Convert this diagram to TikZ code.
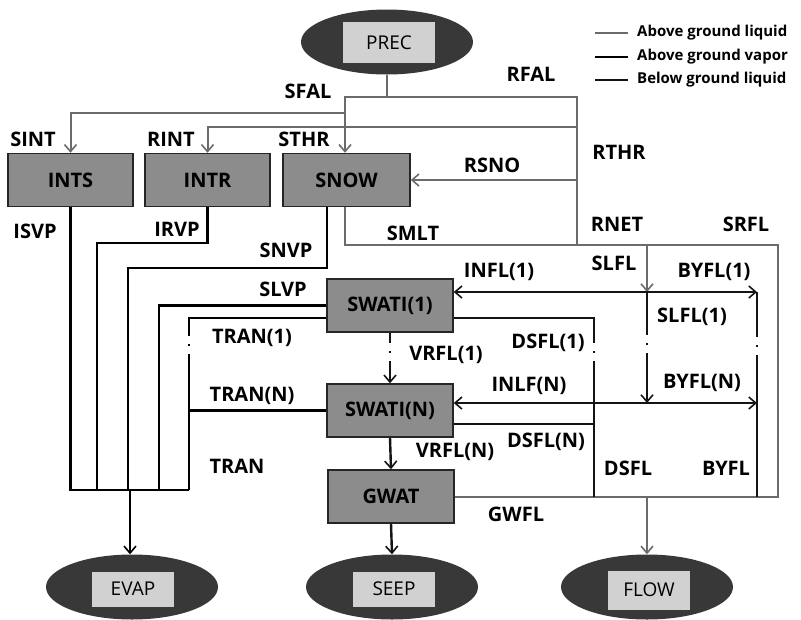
\documentclass[tikz,border=0pt]{standalone}
\usepackage{fontspec}
\setmainfont{Open Sans}
\usetikzlibrary{arrows.meta,shapes.geometric}

\tikzset{
  >={Straight Barb[length=7pt,width=12pt,line width=1.6pt]},
  box/.style={draw=black!85, line width=1.5pt, fill=black!45, minimum width=125pt, minimum height=53pt, inner sep=0pt, font=\fontsize{20}{24}\selectfont\bfseries},
  pool/.style={ellipse, fill=black!78, minimum width=172pt, minimum height=65pt, inner sep=0pt},
  tag/.style={fill=black!18, minimum width=82pt, minimum height=35pt, inner sep=0pt, font=\fontsize{19}{22}\selectfont},
  lbl/.style={inner sep=0pt, font=\fontsize{20}{24}\selectfont\bfseries},
  leg/.style={inner sep=0pt, font=\fontsize{15}{18}\selectfont\bfseries},
  liq/.style={draw=black!58, line width=2pt},
  vap/.style={draw=black, line width=2.6pt},
  bel/.style={draw=black!92, line width=2.4pt},
  brk/.style={dash pattern=on #1 off 8pt on 2pt off 8pt on 2000pt},
}

\begin{document}
\begin{tikzpicture}[x=1pt, y=-1pt]
  \useasboundingbox (0,0) rectangle (801,619);

  % pools
  \node[pool] (prec) at (387,42) {};
  \node[tag, minimum width=92pt, minimum height=41pt] (precb) at (389,42.5) {PREC};
  \node[pool] (evap) at (132,587) {};
  \node[tag] (evapb) at (133,589) {EVAP};
  \node[pool] (seep) at (392,587) {};
  \node[tag] (seepb) at (394,589) {SEEP};
  \node[pool] (flow) at (647,587) {};
  \node[tag, minimum height=39pt] (flowb) at (649,590) {FLOW};

  % stores
  \node[box] (ints) at (70.5,180) {INTS};
  \node[box] (intr) at (207.5,180) {INTR};
  \node[box, minimum width=127pt] (snow) at (346.5,180) {SNOW};
  \node[box, minimum width=126pt] (swa) at (390,305.5) {SWATI(1)};
  \node[box, minimum width=126pt] (swn) at (390,410.5) {SWATI(N)};
  \node[box, minimum width=126pt] (gwat) at (391,496.5) {GWAT};

  % junctions
  \coordinate (jn) at (387,97);
  \coordinate (js) at (345,113);
  \coordinate (jr) at (577,127);
  \coordinate (jo) at (577,180);
  \coordinate (rn) at (577,245);
  \coordinate (jl) at (647,245);
  \coordinate (sr) at (778,245);
  \coordinate (ji) at (647,292);
  \coordinate (b1) at (757,292);
  \coordinate (jf) at (647,497);
  \coordinate (vr) at (189,490);
  \coordinate (ve) at (130,490);

  % above ground liquid
  \draw[liq] (prec.south) -- (jn);
  \draw[liq, ->] (jn) -| ([xshift=-1.5pt]snow.north);
  \draw[liq, ->] (js) -| (ints.north);
  \draw[liq] (jn) -| (rn);
  \draw[liq, ->] (jr) -| (intr.north);
  \draw[liq, ->] (jo) -- (snow.east);
  \draw[liq] ([xshift=-1.5pt]snow.south) |- (sr) -- (sr |- jf) -- (gwat.east |- jf);
  \draw[liq, ->] (jl) -- (ji);
  \draw[liq, ->] (jf) -- (flow.north);

  % above ground vapor
  \draw[vap] (ints.south) |- (vr);
  \draw[vap] (intr.south) |- (97,243) -- (97,490);
  \draw[vap] ([xshift=-19.5pt]snow.south) |- (128,268) -- (128,490);
  \draw[vap] (swa.west) -| (159,490);
  \draw[vap, brk=155pt] ([yshift=-12.5pt]swa.west) -| (vr);
  \draw[vap] (swn.west) -- (189,410.5);
  \draw[vap, ->] (ve) -- (ve |- evap.north);

  % below ground liquid
  \draw[bel, <->] ([yshift=13.5pt]swa.east) -- (b1);
  \draw[bel, brk=45pt] (b1) -- (b1 |- jf);
  \draw[bel, ->, brk=43pt] (ji) -- (647,403);
  \draw[bel, <->] ([yshift=7.5pt]swn.east) -- (757,403);
  \draw[bel, brk=165pt] ([yshift=-12.5pt]swa.east) -| (594,497);
  \draw[bel] ([yshift=-13.5pt]swn.east) -- (594,424);
  \draw[bel, ->, brk=10pt] (swa.south) -- (swn.north);
  \draw[bel, ->] (swn.south) -- (gwat.north);
  \draw[bel, ->] (gwat.south) -- (seep.north);

  % flux names
  \foreach \t/\x/\y [count=\i] in {SFAL/308/91, RFAL/531/74, SINT/33/139, RINT/171/139,
      STHR/304/139, RSNO/492/165, RTHR/619/152, ISVP/35/231, IRVP/177/229, SNVP/286/250,
      SMLT/413/233, SLVP/283/289, RNET/617/224, SRFL/746/224, INFL(1)/499/272, SLFL/614/263,
      BYFL(1)/714/272, SLFL(1)/692/317, TRAN(1)/252/338, VRFL(1)/446/355, DSFL(1)/548/343,
      TRAN(N)/252/396, INLF(N)/529/386, BYFL(N)/702/383, TRAN/237/466, VRFL(N)/455/452,
      DSFL(N)/546/442, DSFL/628/468, BYFL/726/468, GWFL/516/514}
    \node[lbl] (l\i) at (\x,\y) {\t};

  % legend
  \node[leg, anchor=west] (lg1) at (637,33) {Above ground liquid};
  \node[leg, anchor=west] (lg2) at (637,57) {Above ground vapor};
  \node[leg, anchor=west] (lg3) at (637,80) {Below ground liquid};
  \draw[liq] ([xshift=-9pt]lg1.west) -- ++(-33,0);
  \draw[vap, line width=1.8pt] ([xshift=-9pt]lg2.west) -- ++(-33,0);
  \draw[bel, line width=2pt] ([xshift=-9pt]lg3.west) -- ++(-33,0);
\end{tikzpicture}
\end{document}
